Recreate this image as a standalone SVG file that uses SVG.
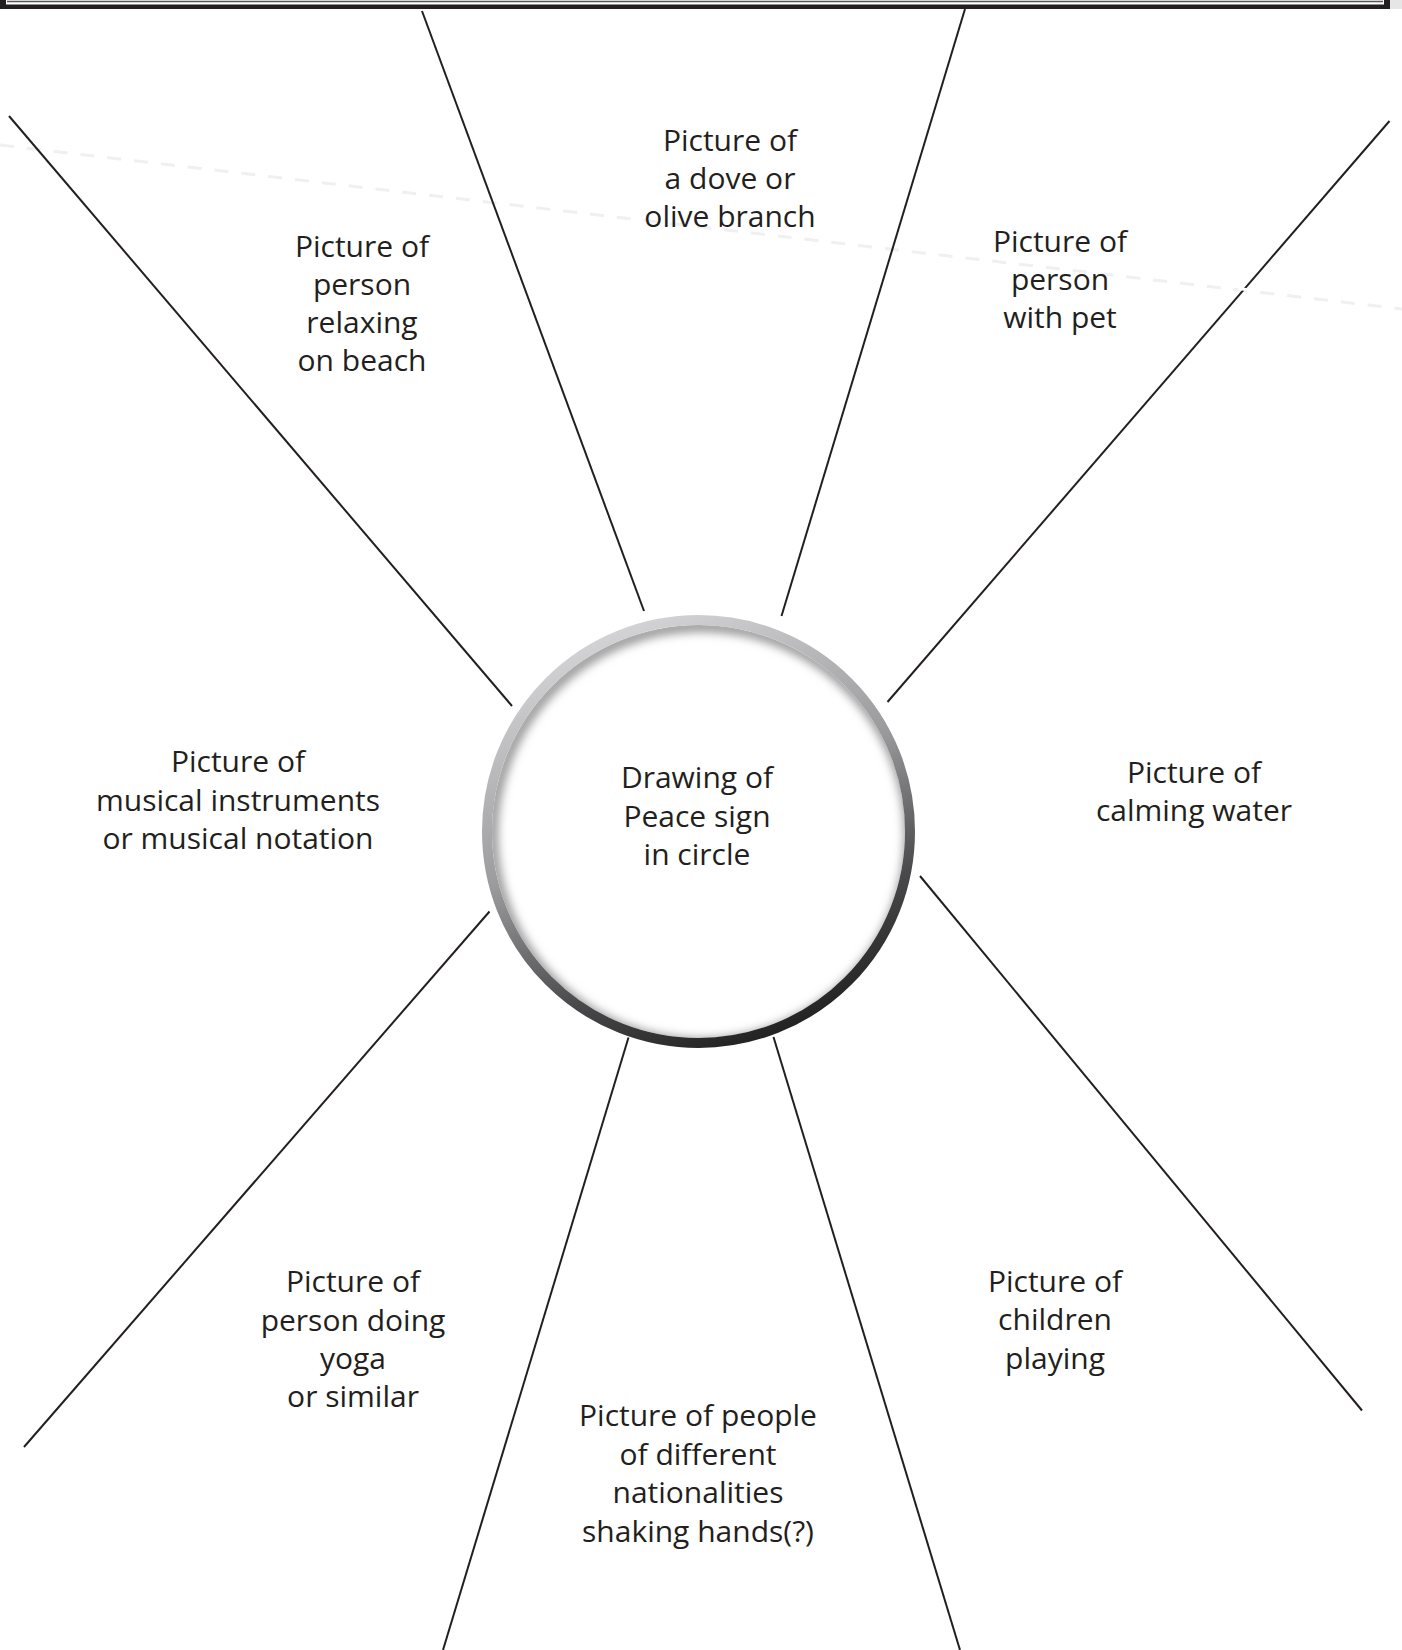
<svg xmlns="http://www.w3.org/2000/svg" width="1402" height="1650" viewBox="0 0 1402 1650">
<style>
.lbl{font-family:"Open Sans","Noto Sans",sans-serif;font-size:30px;fill:#231f20;text-anchor:middle}
.spoke{stroke:#231f20;stroke-width:2;fill:none}
</style>
<defs>
<linearGradient id="ringGrad" x1="0.3" y1="0" x2="0.7" y2="1">
<stop offset="0" stop-color="#d6d6d8"/>
<stop offset="0.45" stop-color="#9a9a9c"/>
<stop offset="0.75" stop-color="#4a4a4c"/>
<stop offset="1" stop-color="#1e1e1e"/>
</linearGradient>
<clipPath id="innerClip"><circle cx="698.5" cy="831.5" r="206.5"/></clipPath>
<filter id="blur" x="-20%" y="-20%" width="140%" height="140%"><feGaussianBlur stdDeviation="5"/></filter>
</defs>
<rect width="1402" height="1650" fill="#ffffff"/>
<g id="frame">
<rect x="0" y="0" width="1390" height="9" fill="#231f20"/>
<rect x="6" y="0" width="1378" height="4.5" fill="#ffffff"/>
<line x1="7" y1="1.5" x2="1383" y2="1.5" stroke="#555" stroke-width="1.5"/>
<rect x="1390" y="0" width="12" height="9" fill="#e6e6e6"/>
</g>
<line x1="0" y1="145" x2="1402" y2="309" stroke="#f0f0f0" stroke-width="3" stroke-dasharray="14 13"/>
<g id="connectors">
<line class="spoke" x1="422" y1="11" x2="644" y2="611"/>
<line class="spoke" x1="965" y1="9" x2="781.5" y2="616"/>
<line class="spoke" x1="9" y1="116" x2="512" y2="706"/>
<line class="spoke" x1="1389.5" y1="121" x2="887.5" y2="702"/>
<line class="spoke" x1="920" y1="876" x2="1362" y2="1410.5"/>
<line class="spoke" x1="489.5" y1="911.5" x2="24" y2="1447"/>
<line class="spoke" x1="628.5" y1="1037.5" x2="443" y2="1650"/>
<line class="spoke" x1="773.5" y1="1037" x2="960" y2="1650"/>
</g>
<line x1="1238" y1="288.5" x2="1250" y2="290" stroke="#ffffff" stroke-width="3"/>
<g id="center">
<circle cx="698.5" cy="831.5" r="211.5" fill="#ffffff"/>
<g clip-path="url(#innerClip)">
<circle cx="701" cy="835" r="209" fill="none" stroke="#9a9a9a" stroke-width="12" filter="url(#blur)"/>
</g>
<circle cx="698.5" cy="831.5" r="211.5" fill="none" stroke="url(#ringGrad)" stroke-width="10"/>
<text class="lbl" x="697" y="788">Drawing of</text>
<text class="lbl" x="697" y="827">Peace sign</text>
<text class="lbl" x="697" y="865">in circle</text>
</g>
<g id="dove">
<text class="lbl" x="730" y="151">Picture of</text>
<text class="lbl" x="730" y="189">a dove or</text>
<text class="lbl" x="730" y="227">olive branch</text>
</g>
<g id="beach">
<text class="lbl" x="362" y="257">Picture of</text>
<text class="lbl" x="362" y="295">person</text>
<text class="lbl" x="362" y="333">relaxing</text>
<text class="lbl" x="362" y="371">on beach</text>
</g>
<g id="pet">
<text class="lbl" x="1060" y="252">Picture of</text>
<text class="lbl" x="1060" y="290">person</text>
<text class="lbl" x="1060" y="328">with pet</text>
</g>
<g id="music">
<text class="lbl" x="238" y="772">Picture of</text>
<text class="lbl" x="238" y="811">musical instruments</text>
<text class="lbl" x="238" y="849">or musical notation</text>
</g>
<g id="water">
<text class="lbl" x="1194" y="783">Picture of</text>
<text class="lbl" x="1194" y="821">calming water</text>
</g>
<g id="yoga">
<text class="lbl" x="353" y="1292">Picture of</text>
<text class="lbl" x="353" y="1331">person doing</text>
<text class="lbl" x="353" y="1369">yoga</text>
<text class="lbl" x="353" y="1407">or similar</text>
</g>
<g id="children">
<text class="lbl" x="1055" y="1292">Picture of</text>
<text class="lbl" x="1055" y="1330">children</text>
<text class="lbl" x="1055" y="1369">playing</text>
</g>
<g id="handshake">
<text class="lbl" x="698" y="1426">Picture of people</text>
<text class="lbl" x="698" y="1465">of different</text>
<text class="lbl" x="698" y="1503">nationalities</text>
<text class="lbl" x="698" y="1542">shaking hands(?)</text>
</g>
</svg>
